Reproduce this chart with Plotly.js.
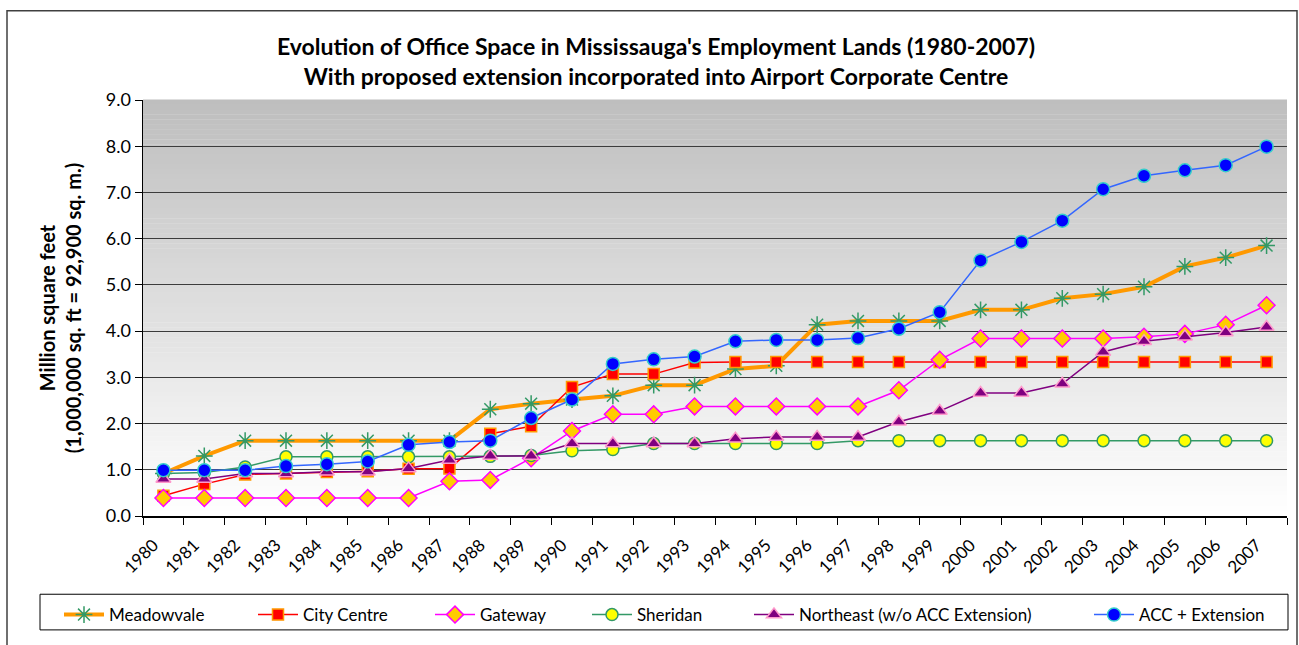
<!DOCTYPE html>
<html>
<head>
<meta charset="utf-8">
<script src="https://cdn.plot.ly/plotly-3.0.1.min.js"></script>
<style>
html,body{margin:0;padding:0;background:#fff;}
#chart{width:1299px;height:645px;}
</style>
</head>
<body>
<div id="chart"></div>
<script>
var years = ['1980','1981','1982','1983','1984','1985','1986','1987','1988','1989','1990','1991','1992','1993','1994','1995','1996','1997','1998','1999','2000','2001','2002','2003','2004','2005','2006','2007'];

var meadowvale = [0.92,1.30,1.63,1.63,1.63,1.63,1.63,1.63,2.31,2.43,2.52,2.60,2.83,2.83,3.18,3.25,4.14,4.22,4.22,4.22,4.46,4.46,4.71,4.80,4.96,5.40,5.59,5.85];
var cityCentre = [0.44,0.69,0.90,0.92,0.95,0.97,1.02,1.03,1.78,1.94,2.79,3.07,3.07,3.32,3.33,3.33,3.33,3.33,3.33,3.33,3.33,3.33,3.33,3.33,3.33,3.33,3.33,3.33];
var gateway = [0.39,0.39,0.39,0.39,0.39,0.39,0.39,0.75,0.78,1.25,1.84,2.20,2.20,2.37,2.37,2.37,2.37,2.37,2.72,3.38,3.84,3.84,3.84,3.84,3.88,3.94,4.14,4.56];
var sheridan = [0.92,0.94,1.06,1.28,1.28,1.28,1.28,1.28,1.29,1.31,1.41,1.44,1.57,1.57,1.57,1.57,1.57,1.63,1.63,1.63,1.63,1.63,1.63,1.63,1.63,1.63,1.63,1.63];
var northeast = [0.80,0.80,0.92,0.92,0.96,0.96,1.03,1.21,1.30,1.30,1.57,1.57,1.57,1.57,1.67,1.71,1.71,1.71,2.04,2.27,2.66,2.66,2.86,3.55,3.78,3.88,3.97,4.09];
var accExt = [0.99,0.99,0.99,1.08,1.12,1.18,1.54,1.60,1.63,2.12,2.52,3.29,3.39,3.45,3.78,3.81,3.81,3.85,4.05,4.41,5.53,5.93,6.39,7.07,7.36,7.48,7.59,7.99];

var seriesNames = ['Meadowvale','City Centre','Gateway','Sheridan','Northeast (w/o ACC Extension)','ACC + Extension'];

var FONT = 'Lato, "Open Sans", "Liberation Sans", sans-serif';

function mk(name, y, lineColor, lineWidth, symbol, size, mColor, mLineColor, mLineWidth, legendId) {
  return {
    type: 'scatter', mode: 'lines+markers', name: name, x: years, y: y,
    line: {color: lineColor, width: lineWidth},
    marker: {symbol: symbol, size: size, color: mColor, line: {color: mLineColor, width: mLineWidth}},
    legend: legendId
  };
}

var traces = [
  mk(seriesNames[0], meadowvale, '#FF9900', 4, 'asterisk-open', 14, '#339966', '#339966', 1.5, 'legend'),
  mk(seriesNames[1], cityCentre, '#FF0000', 1.5, 'square', 11, '#FF0000', '#FF9900', 1.5, 'legend2'),
  mk(seriesNames[2], gateway, '#FF00FF', 1.5, 'diamond', 13, '#FFCC00', '#FF00FF', 1.5, 'legend3'),
  mk(seriesNames[3], sheridan, '#339966', 1.5, 'circle', 12, '#FFFF00', '#339966', 1.5, 'legend4'),
  mk(seriesNames[4], northeast, '#800080', 1.5, 'triangle-up', 13, '#800080', '#FF99CC', 1.5, 'legend5'),
  mk(seriesNames[5], accExt, '#3366FF', 1.5, 'circle', 13, '#0000FF', '#33CCCC', 1.5, 'legend6')
];

// plot area geometry (pixels)
var L = 143, R = 12, T = 100, B = 125, W = 1299, H = 645;
var pw = W - L - R, ph = H - T - B;
function px2x(p){ return (p - L) / pw; }
function py2y(p){ return (H - B - p) / ph; }

// gradient background bands
var shapes = [];
var N = 84;
for (var i = 0; i < N; i++) {
  var g = Math.round(190 + (255 - 190) * (i / (N - 1)));
  shapes.push({type: 'rect', xref: 'paper', yref: 'paper', x0: 0, x1: 1,
    y0: 1 - (i + 1) / N, y1: 1 - i / N + 0.001, fillcolor: 'rgb(' + g + ',' + g + ',' + g + ')',
    line: {width: 0}, layer: 'below'});
}
// outer chart frame
shapes.push({type: 'rect', xref: 'paper', yref: 'paper', x0: px2x(7), x1: px2x(1297), y0: py2y(660), y1: py2y(10),
  line: {color: '#404040', width: 1.5}, fillcolor: 'rgba(0,0,0,0)', layer: 'above'});
// legend box
shapes.push({type: 'rect', xref: 'paper', yref: 'paper', x0: px2x(40), x1: px2x(1288), y0: py2y(635), y1: py2y(599),
  line: {color: '#000000', width: 1}, fillcolor: 'rgba(0,0,0,0)', layer: 'above'});

var legendStarts = [62, 256, 433, 590, 752, 1092];
var layout = {
  width: W, height: H,
  margin: {l: L, r: R, t: T, b: B, pad: 0},
  paper_bgcolor: '#ffffff', plot_bgcolor: 'rgba(0,0,0,0)',
  font: {family: FONT, color: '#000000', size: 16},
  title: {
    text: "<b>Evolution of Office Space in Mississauga's Employment Lands (1980-2007)</b><br><b>With proposed extension incorporated into Airport Corporate Centre</b>",
    font: {family: FONT, size: 23, color: '#000000'},
    x: 0.505, xref: 'container', xanchor: 'center',
    y: 0.915, yref: 'container', yanchor: 'top'
  },
  xaxis: {
    type: 'category', tickson: 'boundaries', ticks: 'outside', ticklen: 7, tickcolor: '#000',
    tickwidth: 1, showline: true, linecolor: '#000', linewidth: 1.5, showgrid: false,
    tickangle: -45, tickfont: {family: FONT, size: 17, color: '#000'}, automargin: false,
    ticklabelstandoff: 11, ticklabelshift: -10,
    range: [-0.5, years.length - 0.5]
  },
  yaxis: {
    range: [0, 9], dtick: 1, tickformat: '.1f', ticks: 'outside', ticklen: 7, tickcolor: '#000',
    showline: true, linecolor: '#000', linewidth: 1.5, showgrid: true, gridcolor: '#3c3c3c', gridwidth: 1,
    zeroline: false, tickfont: {family: FONT, size: 18, color: '#000'}, automargin: false,
    title: {text: '<b>Million square feet</b><br><b>(1,000,000 sq. ft = 92,900 sq. m.)</b>',
      font: {family: FONT, size: 20, color: '#000'}, standoff: 19}
  },
  shapes: shapes,
  showlegend: true
};
var legendKeys = ['legend','legend2','legend3','legend4','legend5','legend6'];
for (var k = 0; k < 6; k++) {
  layout[legendKeys[k]] = {
    orientation: 'h', x: px2x(legendStarts[k] - 3), xanchor: 'left', y: py2y(620), yanchor: 'middle',
    bgcolor: 'rgba(0,0,0,0)', borderwidth: 0, itemwidth: 40,
    font: {family: FONT, size: 17, color: '#000'}
  };
}

Plotly.newPlot('chart', traces, layout, {displayModeBar: false, staticPlot: true});
</script>
</body>
</html>
